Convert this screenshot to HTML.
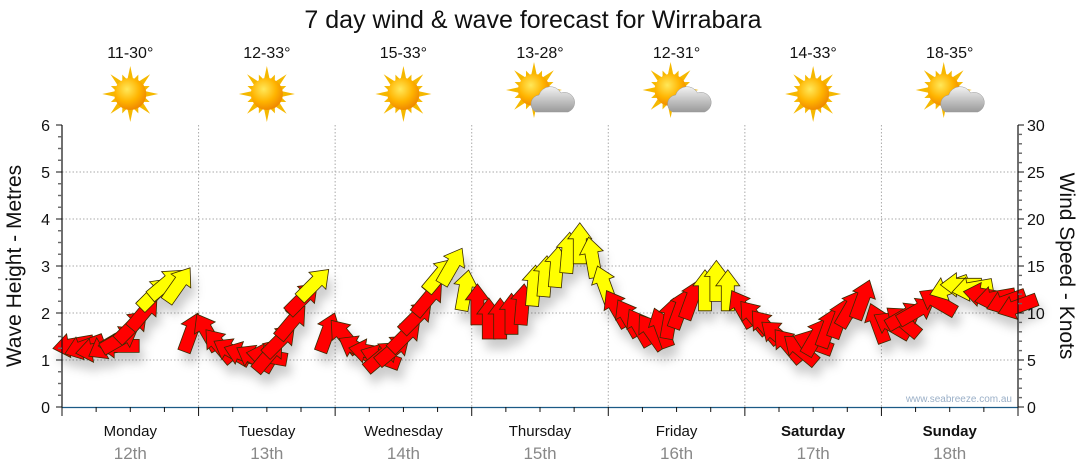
<!DOCTYPE html>
<html><head><meta charset="utf-8"><title>7 day wind &amp; wave forecast</title>
<style>
html,body{margin:0;padding:0;background:#fff;}
svg{display:block;font-family:"Liberation Sans",Verdana,sans-serif;}
</style></head>
<body>
<svg id="chart" width="1080" height="475" viewBox="0 0 1080 475">
<defs>
  <radialGradient id="sunG" cx="40%" cy="35%" r="65%">
    <stop offset="0" stop-color="#ffe85a"/><stop offset="0.6" stop-color="#ffb400"/><stop offset="1" stop-color="#f08a00"/>
  </radialGradient>
  <linearGradient id="cloudG" x1="0" y1="0" x2="0" y2="1">
    <stop offset="0" stop-color="#f2f2f2"/><stop offset="1" stop-color="#9a9a9a"/>
  </linearGradient>
  <filter id="sh" x="-50%" y="-50%" width="200%" height="200%">
    <feDropShadow dx="4" dy="10" stdDeviation="5" flood-color="#000" flood-opacity="0.2"/>
  </filter>
</defs>
<text x="533" y="28" text-anchor="middle" font-size="25" fill="#111">7 day wind &amp; wave forecast for Wirrabara</text>
<g id="icons"></g>
<g id="grid"></g>
<g id="arrows" filter="url(#sh)"></g>
<g id="axes"></g>
<text x="1012" y="402" text-anchor="end" font-size="10" fill="#9bb0c8">www.seabreeze.com.au</text>
<text transform="translate(21,266) rotate(-90)" text-anchor="middle" font-size="21" fill="#111">Wave Height - Metres</text>
<text transform="translate(1060,266) rotate(90)" text-anchor="middle" font-size="21" fill="#111">Wind Speed - Knots</text>
</svg>
<script>
const dayNames = ["Monday","Tuesday","Wednesday","Thursday","Friday","Saturday","Sunday"];
const dayDates = ["12th","13th","14th","15th","16th","17th","18th"];
const temps = ["11-30°","12-33°","15-33°","13-28°","12-31°","14-33°","18-35°"];
const cloudy = [false,false,false,true,true,false,true];
const boldDays = [false,false,false,false,false,true,true];
const waveTicks = [0,1,2,3,4,5,6];
const windTicks = [0,5,10,15,20,25,30];
const windSpeeds = [
 6.5,6.2,6,6.2,6.5,7.5,9,10.5,12.5,13.5,13.5,8.5,
 8.5,7,6.2,5.8,5.5,5.5,6,7.5,9.5,12,13.5,8.5,
 8,6.5,6,5.5,5.8,6.5,8,10,12,14.5,15.5,13,
 11.5,10,10,10.5,11.5,13.5,14.5,15.5,17,18,16.5,13.5,
 11,10,9,8.5,9,10,11,12,13,14,13,11,
 10,9,8,7,6.5,7,8,9,10,11,12,9.5,
 9,9.5,10,10.5,11.5,12.5,13,12.5,12,11.5,11,10.5
];
const windDirs = [
 -100,-110,-100,-120,-90,60,45,40,45,50,35,20,
 -30,-40,-60,-70,-60,-80,40,45,40,45,45,20,
 -40,-60,-80,-70,50,50,45,45,40,40,30,10,
 0,0,0,0,5,5,5,5,5,0,-10,-20,
 -30,-30,-30,-35,-20,10,20,20,0,0,0,-30,
 -40,-40,-50,-40,-50,-70,30,20,20,30,20,-20,
 -60,-50,60,60,-60,-110,-90,-100,-80,-100,-110,-110
];
const NS="http://www.w3.org/2000/svg";
const L=62,R=1018,T=125,B=407;
const dayW=(R-L)/7;
const yWave=v=>B-(B-T)*v/6;
const yWind=v=>B-(B-T)*v/30;
const xDay=d=>L+dayW*d;
function mk(tag,attrs,parent){const e=document.createElementNS(NS,tag);for(const k in attrs)e.setAttribute(k,attrs[k]);parent.appendChild(e);return e;}
const grid=document.getElementById('grid'),axes=document.getElementById('axes'),arrows=document.getElementById('arrows'),icons=document.getElementById('icons');
for(let i=1;i<6;i++){const l=mk('line',{x1:L,x2:R,y1:yWave(i),y2:yWave(i),stroke:'#aaa','stroke-dasharray':'1.5,2','stroke-width':1},grid);

}
for(let d=1;d<7;d++){const l=mk('line',{x1:xDay(d),x2:xDay(d),y1:T,y2:B,stroke:'#aaa','stroke-dasharray':'1.5,2','stroke-width':1},grid);

}
mk('line',{x1:L,x2:L,y1:T,y2:B,stroke:'#111','stroke-width':1.2},axes);
mk('line',{x1:R,x2:R,y1:T,y2:B,stroke:'#111','stroke-width':1.2},axes);
mk('line',{x1:L,x2:R,y1:B+0.5,y2:B+0.5,stroke:'#1b5a86','stroke-width':1.3},axes);
for(let v=0;v<=24;v++){const y=yWave(v/4);mk('line',{x1:L-(v%4?4:6),x2:L,y1:y,y2:y,stroke:v%4?'#666':'#111','stroke-width':v%4?1.4:1},axes);}
for(let v=0;v<=30;v++){const y=yWind(v);mk('line',{x1:R,x2:R+(v%5?4:6),y1:y,y2:y,stroke:v%5?'#666':'#111','stroke-width':v%5?1.4:1},axes);}
waveTicks.forEach(v=>{const t=mk('text',{x:50,y:yWave(v)+6,'text-anchor':'end','font-size':16,fill:'#111'},axes);t.textContent=v;

});
windTicks.forEach(v=>{const t=mk('text',{x:1027,y:yWind(v)+6,'text-anchor':'start','font-size':16,fill:'#111'},axes);t.textContent=v;

});
for(let q=0;q<=28;q++){const x=L+q*dayW/4;const big=q%4==0;mk('line',{x1:x,x2:x,y1:B,y2:B+(big?9:5),stroke:'#111','stroke-width':1},axes);}
dayNames.forEach((n,d)=>{const cx=xDay(d)+dayW/2;
const t=mk('text',{x:cx,y:436,'text-anchor':'middle','font-size':15,fill:'#111','font-weight':boldDays[d]?'bold':'normal'},axes);t.textContent=n;


const t2=mk('text',{x:cx,y:459,'text-anchor':'middle','font-size':17,fill:'#888'},axes);t2.textContent=dayDates[d];


const t3=mk('text',{x:cx,y:58,'text-anchor':'middle','font-size':16,fill:'#111'},icons);t3.textContent=temps[d];


const g=mk('g',{transform:'translate('+cx+',94)'},icons);


const sx=cloudy[d]?-6:0, sy=cloudy[d]?-4:0;
for(let r=0;r<16;r++){const a=r*Math.PI/8;const len=r%2?21:28;const w=3.2;
const px=Math.cos(a),py=Math.sin(a);
mk('polygon',{points:[(sx+px*13-py*w),(sy+py*13+px*w),(sx+px*len),(sy+py*len),(sx+px*13+py*w),(sy+py*13-px*w)].join(','),fill:'#f5b800'},g);}
mk('circle',{cx:sx,cy:sy,r:16,fill:'url(#sunG)'},g);
if(cloudy[d]){mk('path',{d:'M-4,18 a9,9 0 0 1 3,-17 a12,12 0 0 1 22,-2 a9.5,9.5 0 0 1 7,19 z',fill:'url(#cloudG)',stroke:'#999','stroke-width':0.5},g);}
});
const perDay=12;
windSpeeds.forEach((s,i)=>{
 const x=L+(i+0.5)*dayW/perDay, y=yWind(s);
 const p=mk('polygon',{points:'-6.5,26 6.5,26 6.5,1 12,1 0,-15 -12,1 -6.5,1',
  transform:'translate('+x.toFixed(1)+','+y.toFixed(1)+') rotate('+windDirs[i]+')',
  fill:s>=12.3?'#ffff00':'#ff0000',stroke:'#3a2a00','stroke-width':0.8,'stroke-linejoin':'miter'},arrows);
 
 
});
</script>
</body></html>
